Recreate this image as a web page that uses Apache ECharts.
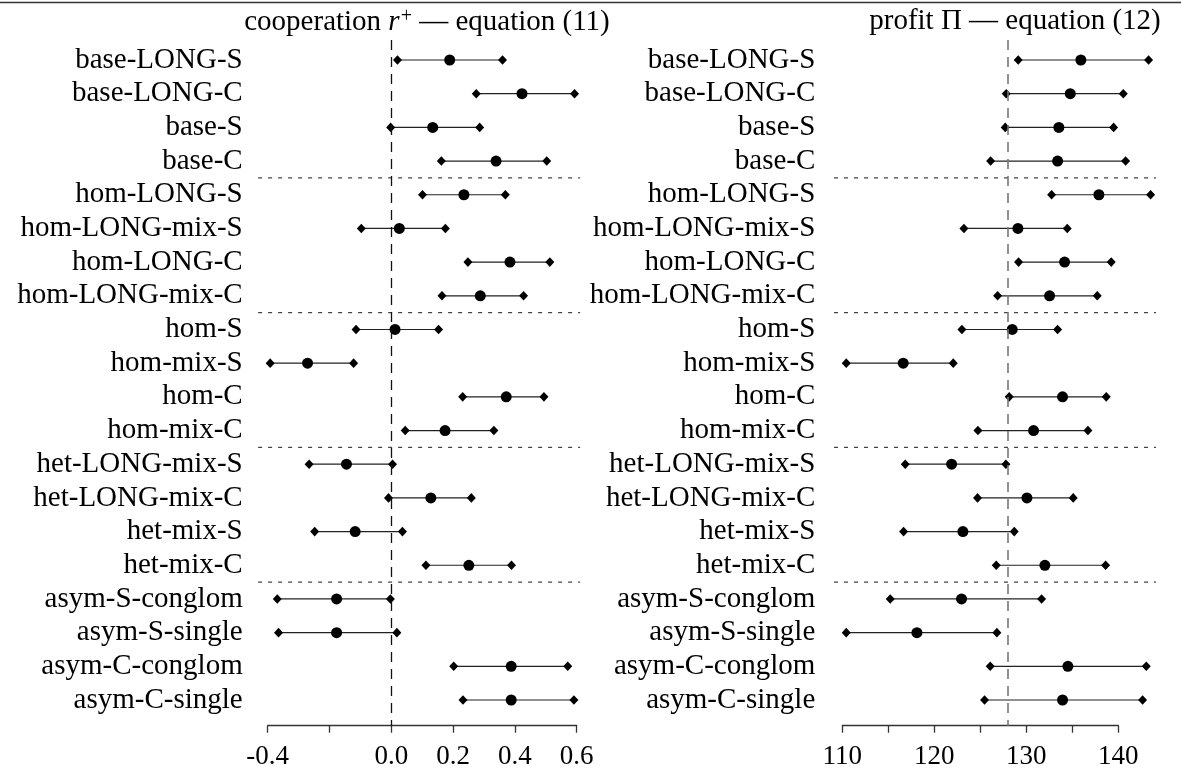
<!DOCTYPE html>
<html>
<head>
<meta charset="utf-8">
<script src="https://cdn.jsdelivr.net/npm/echarts@6/dist/echarts.min.js"></script>
<style>
  html, body { margin: 0; padding: 0; background: #fff; }
  #chart { width: 1181px; height: 772px; }
</style>
</head>
<body>
<div id="chart"></div>
<script>
// categories, top to bottom
const categories = [
  'base-LONG-S', 'base-LONG-C', 'base-S', 'base-C',
  'hom-LONG-S', 'hom-LONG-mix-S', 'hom-LONG-C', 'hom-LONG-mix-C',
  'hom-S', 'hom-mix-S', 'hom-C', 'hom-mix-C',
  'het-LONG-mix-S', 'het-LONG-mix-C', 'het-mix-S', 'het-mix-C',
  'asym-S-conglom', 'asym-S-single', 'asym-C-conglom', 'asym-C-single'
];
const groupSizes = [4, 4, 4, 4, 4];

// cooperation r+ (equation 11)
const coopLow  = [0.020, 0.275, -0.002, 0.162, 0.101, -0.097, 0.248, 0.164, -0.114, -0.392, 0.231, 0.045, -0.266, -0.009, -0.248, 0.112, -0.369, -0.365, 0.202, 0.232];
const coopMean = [0.189, 0.423, 0.134, 0.339, 0.235, 0.026, 0.384, 0.288, 0.012, -0.271, 0.372, 0.174, -0.145, 0.128, -0.117, 0.251, -0.177, -0.177, 0.388, 0.388];
const coopHigh = [0.360, 0.593, 0.286, 0.503, 0.369, 0.175, 0.513, 0.428, 0.153, -0.122, 0.494, 0.332, 0.004, 0.259, 0.036, 0.389, -0.003, 0.018, 0.571, 0.591];

// profit (equation 12)
const profitLow  = [129.12, 127.82, 127.71, 126.12, 132.75, 123.22, 129.16, 126.88, 123.00, 110.43, 128.14, 124.74, 116.84, 124.70, 116.66, 126.73, 115.21, 110.43, 126.08, 125.46];
const profitMean = [135.93, 134.78, 133.54, 133.40, 137.89, 129.09, 134.16, 132.53, 128.47, 116.62, 133.94, 130.79, 121.88, 130.07, 123.11, 132.02, 122.96, 118.11, 134.52, 133.94];
const profitHigh = [143.29, 140.54, 139.49, 140.79, 143.51, 134.45, 139.23, 137.71, 133.40, 122.06, 138.69, 136.70, 127.78, 135.10, 128.69, 138.62, 131.66, 126.80, 143.04, 142.64];

// tick values and labels
const coopTicks = [-0.4, -0.2, 0, 0.2, 0.4, 0.6];
const coopTickLabels = ['-0.4', '', '0.0', '0.2', '0.4', '0.6'];
const profitTicks = [110, 115, 120, 125, 130, 135, 140];
const profitTickLabels = ['110', '', '120', '', '130', '', '140'];

const coopRef = 0;
const profitRef = 128;

const FONT = '"Liberation Serif", "DejaVu Serif", serif';
const FS = 29;      // category labels, titles
const TICK_FS = 27; // numbers on the x axes

// separator positions between groups
const separators = [];
let acc = 0;
groupSizes.slice(0, -1).forEach(n => { acc += n; separators.push(acc - 0.5); });

const chart = echarts.init(document.getElementById('chart'));

function ciItem(params, api) {
  const y = api.value(0);
  const p1 = api.coord([api.value(1), y]);
  const p2 = api.coord([api.value(2), y]);
  const w = 4.5, h = 4.8;
  const diamond = (p) => ({
    type: 'polygon',
    shape: { points: [[p[0], p[1] - h], [p[0] + w, p[1]], [p[0], p[1] + h], [p[0] - w, p[1]]] },
    style: { fill: '#000' }
  });
  return {
    type: 'group',
    children: [
      { type: 'line', shape: { x1: p1[0], y1: p1[1], x2: p2[0], y2: p2[1] }, style: { stroke: '#222', lineWidth: 1.2 } },
      diamond(p1),
      diamond(p2)
    ]
  };
}

function sepItem(lo, hi) {
  return function (params, api) {
    const y = api.value(0);
    const a = api.coord([lo, y]);
    const b = api.coord([hi, y]);
    return {
      type: 'line',
      shape: { x1: a[0], y1: a[1], x2: b[0], y2: b[1] },
      style: { stroke: '#444', lineWidth: 1.2, lineDash: [4, 6] }
    };
  };
}

function yAxisFor(gridIndex, margin) {
  return {
    type: 'value', gridIndex: gridIndex, inverse: true,
    min: -0.594, max: 19.763,
    axisLine: { show: false }, axisTick: { show: false }, splitLine: { show: false },
    axisLabel: {
      customValues: categories.map((c, i) => i),
      formatter: v => categories[Math.round(v)],
      fontFamily: FONT, fontSize: FS, color: '#000', margin: margin
    }
  };
}

function xAxisFor(gridIndex, ticks, labels) {
  return {
    type: 'value', gridIndex: gridIndex, position: 'bottom',
    min: ticks[0], max: ticks[ticks.length - 1],
    axisLine: { show: true, onZero: false, lineStyle: { color: '#333', width: 1.3 } },
    axisTick: { show: true, inside: false, customValues: ticks, length: 7, lineStyle: { color: '#333', width: 1.3 } },
    splitLine: { show: false },
    axisLabel: {
      customValues: ticks,
      formatter: v => labels[ticks.findIndex(t => Math.abs(t - v) < 1e-6)] || '',
      fontFamily: FONT, fontSize: TICK_FS, color: '#000', margin: 18
    }
  };
}

const option = {
  animation: false,
  backgroundColor: '#fff',
  title: [
    {
      left: 422, top: 2, textAlign: 'center',
      text: '{a|cooperation }{i|r}{s|+}{a| — equation (11)}',
      textStyle: {
        rich: {
          a: { fontFamily: FONT, fontSize: FS, fontWeight: 'normal', color: '#000' },
          i: { fontFamily: FONT, fontSize: FS, fontWeight: 'normal', fontStyle: 'italic', color: '#000' },
          s: { fontFamily: FONT, fontSize: 20, fontWeight: 'normal', color: '#000', verticalAlign: 'top', padding: [0, 0, 10, 1] }
        }
      }
    },
    {
      left: 1010, top: 2, textAlign: 'center',
      text: 'profit Π — equation (12)',
      textStyle: { fontFamily: FONT, fontSize: FS, fontWeight: 'normal', color: '#000' }
    }
  ],
  graphic: [
    { type: 'line', shape: { x1: 0, y1: 2.5, x2: 1181, y2: 2.5 }, style: { stroke: '#333', lineWidth: 1.5 } }
  ],
  grid: [
    { left: 267.7, width: 309, top: 40, bottom: 46.3 },
    { left: 842.3, width: 276, top: 40, bottom: 46.3 }
  ],
  xAxis: [
    xAxisFor(0, coopTicks, coopTickLabels),
    xAxisFor(1, profitTicks, profitTickLabels)
  ],
  yAxis: [yAxisFor(0, 25), yAxisFor(1, 27)],
  series: [
    {
      type: 'custom', xAxisIndex: 0, yAxisIndex: 0, clip: false, silent: true,
      renderItem: sepItem(-0.431, 0.611),
      encode: { y: 0 },
      data: separators.map(s => [s])
    },
    {
      type: 'custom', xAxisIndex: 1, yAxisIndex: 1, clip: false, silent: true,
      renderItem: sepItem(109.1, 144.1),
      encode: { y: 0 },
      data: separators.map(s => [s])
    },
    {
      type: 'scatter', xAxisIndex: 0, yAxisIndex: 0, clip: false, z: 1, silent: true,
      data: [],
      markLine: {
        symbol: 'none', silent: true, label: { show: false },
        lineStyle: { color: '#111', type: [10, 7], width: 1.3 },
        data: [{ xAxis: coopRef }]
      }
    },
    {
      type: 'scatter', xAxisIndex: 1, yAxisIndex: 1, clip: false, z: 1, silent: true,
      data: [],
      markLine: {
        symbol: 'none', silent: true, label: { show: false },
        lineStyle: { color: '#777', type: [10, 7], width: 1.6 },
        data: [{ xAxis: profitRef }]
      }
    },
    {
      type: 'custom', xAxisIndex: 0, yAxisIndex: 0, clip: false, z: 3,
      renderItem: ciItem,
      encode: { x: [1, 2], y: 0 },
      data: categories.map((c, i) => [i, coopLow[i], coopHigh[i]])
    },
    {
      type: 'custom', xAxisIndex: 1, yAxisIndex: 1, clip: false, z: 3,
      renderItem: ciItem,
      encode: { x: [1, 2], y: 0 },
      data: categories.map((c, i) => [i, profitLow[i], profitHigh[i]])
    },
    {
      type: 'scatter', xAxisIndex: 0, yAxisIndex: 0, clip: false, z: 4,
      symbol: 'circle', symbolSize: 11, itemStyle: { color: '#000', opacity: 1 },
      data: categories.map((c, i) => [coopMean[i], i])
    },
    {
      type: 'scatter', xAxisIndex: 1, yAxisIndex: 1, clip: false, z: 4,
      symbol: 'circle', symbolSize: 11, itemStyle: { color: '#000', opacity: 1 },
      data: categories.map((c, i) => [profitMean[i], i])
    }
  ]
};

chart.setOption(option);
</script>
</body>
</html>
